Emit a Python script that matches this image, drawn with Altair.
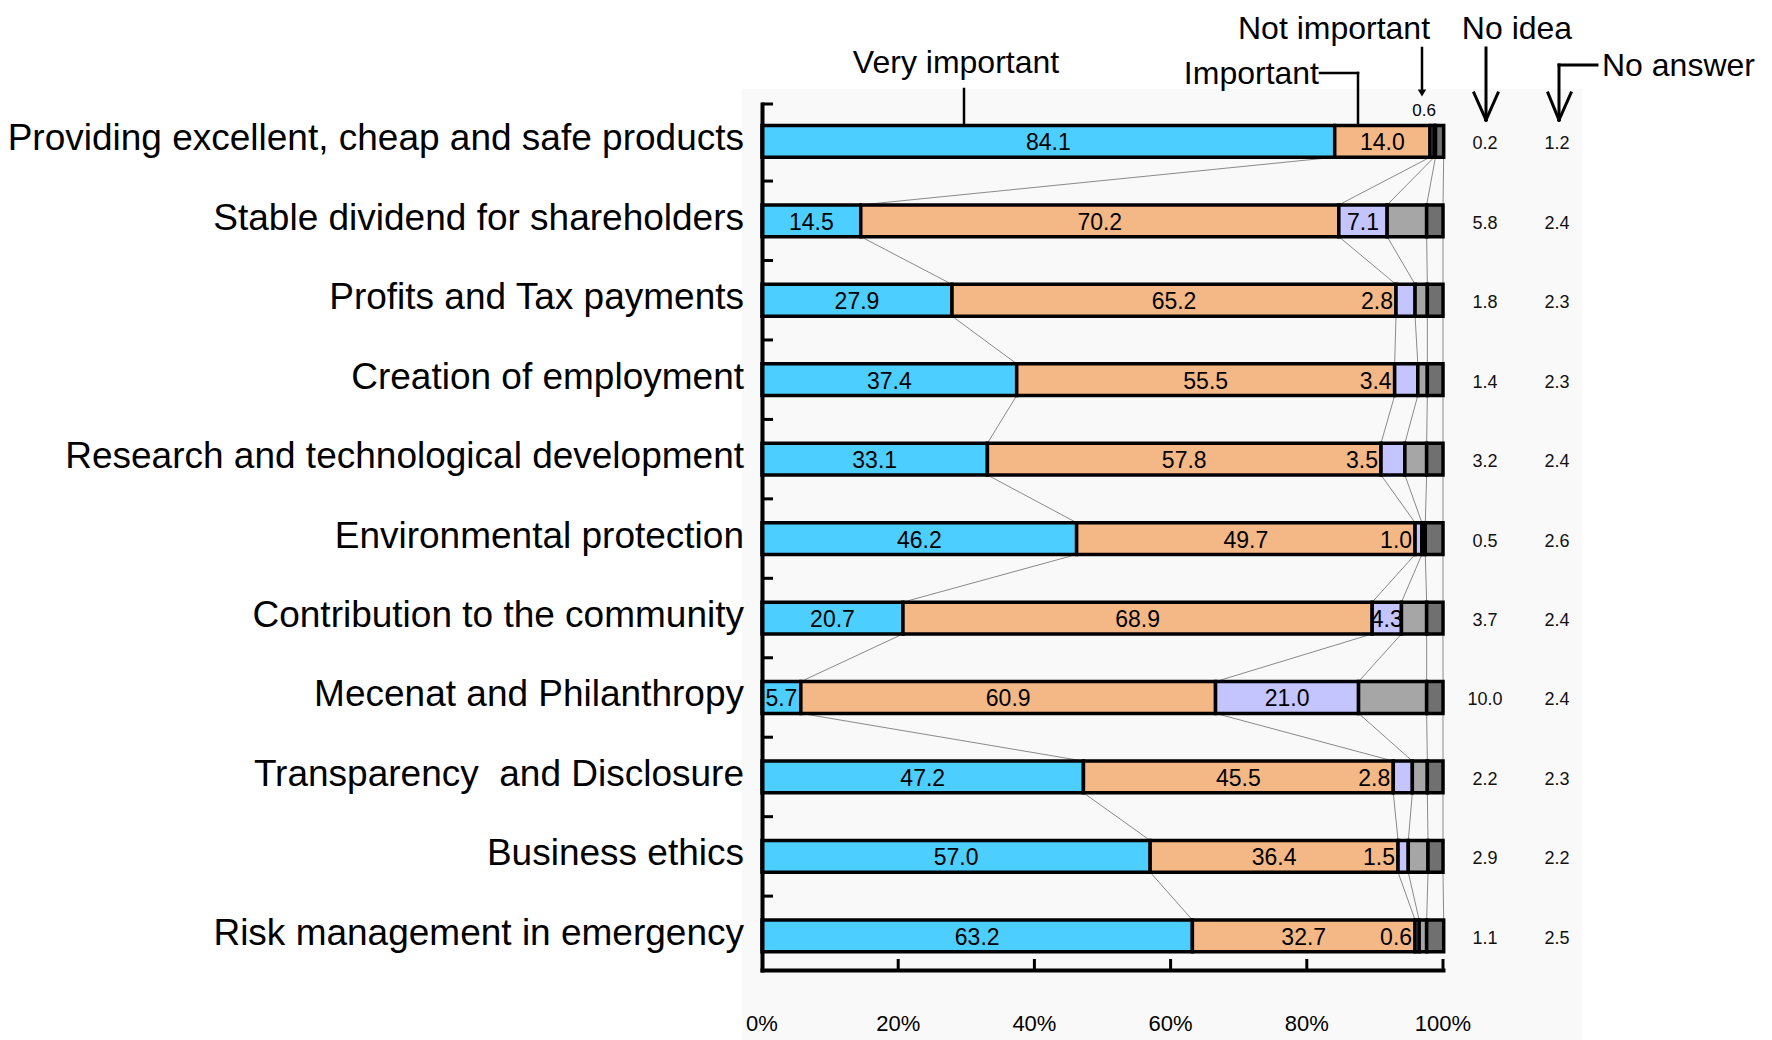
import altair as alt
import pandas as pd

# ---------------- data ----------------
categories = [
    "Providing excellent, cheap and safe products",
    "Stable dividend for shareholders",
    "Profits and Tax payments",
    "Creation of employment",
    "Research and technological development",
    "Environmental protection",
    "Contribution to the community",
    "Mecenat and Philanthropy",
    "Transparency\u00a0 and Disclosure",
    "Business ethics",
    "Risk management in emergency",
]
very_important = [84.1, 14.5, 27.9, 37.4, 33.1, 46.2, 20.7, 5.7, 47.2, 57.0, 63.2]
important = [14.0, 70.2, 65.2, 55.5, 57.8, 49.7, 68.9, 60.9, 45.5, 36.4, 32.7]
not_important = [0.6, 7.1, 2.8, 3.4, 3.5, 1.0, 4.3, 21.0, 2.8, 1.5, 0.6]
no_idea = [0.2, 5.8, 1.8, 1.4, 3.2, 0.5, 3.7, 10.0, 2.2, 2.9, 1.1]
no_answer = [1.2, 2.4, 2.3, 2.3, 2.4, 2.6, 2.4, 2.4, 2.3, 2.2, 2.5]

series_names = ["Very important", "Important", "Not important", "No idea", "No answer"]
series_colors = ["#4CCFFF", "#F4B887", "#C4C4FF", "#A6A6A6", "#707070"]

# how the "Not important" value label is placed on each row
not_important_label_style = ["above", "center", "left", "left", "left", "left",
                             "center", "center", "left", "left", "left"]

x_tick_values = [0, 20, 40, 60, 80, 100]
x_tick_labels = ["0%", "20%", "40%", "60%", "80%", "100%"]

# ---------------- geometry / style ----------------
W, H = 681, 866
HALF = 0.2                      # half bar thickness in row units
Y_DOMAIN = [-0.47, 10.43]
CAT_FONT = "Liberation Sans, Arial, sans-serif"
NUM_FONT = "Liberation Sans, Arial, sans-serif"

series_values = [very_important, important, not_important, no_idea, no_answer]
n = len(categories)

seg_rows = []
cums = []
for i in range(n):
    c = 0.0
    row_cum = []
    for k, name in enumerate(series_names):
        v = series_values[k][i]
        seg_rows.append({"row": i, "series": name, "start": c, "end": c + v,
                         "y0": i - HALF, "y1": i + HALF})
        c += v
        row_cum.append(c)
    cums.append(row_cum)
seg_df = pd.DataFrame(seg_rows)

conn_rows = []
for i in range(n - 1):
    for k in range(len(series_names)):
        conn_rows.append({"xa": cums[i][k], "ya": i + HALF,
                          "xb": cums[i + 1][k], "yb": i + 1 - HALF})
conn_df = pd.DataFrame(conn_rows)

lab_center = []
lab_left = []
lab_above = []
for i in range(n):
    v0, v1, v2 = very_important[i], important[i], not_important[i]
    lab_center.append({"row": i, "x": v0 / 2, "t": f"{v0:.1f}"})
    lab_center.append({"row": i, "x": v0 + v1 / 2, "t": f"{v1:.1f}"})
    st = not_important_label_style[i]
    if st == "center":
        lab_center.append({"row": i, "x": v0 + v1 + v2 / 2, "t": f"{v2:.1f}"})
    elif st == "left":
        lab_left.append({"row": i, "x": v0 + v1, "t": f"{v2:.1f}"})
    else:
        lab_above.append({"row": i - HALF, "x": v0 + v1 + v2 / 2, "t": f"{v2:.1f}"})

cat_df = pd.DataFrame({"row": list(range(n)), "cat": categories,
                       "idea": [f"{v:.1f}" for v in no_idea],
                       "noans": [f"{v:.1f}" for v in no_answer]})

ytick_df = pd.DataFrame({"yt": [Y_DOMAIN[0]] + [i + 0.5 for i in range(n - 1)]})
xtick_df = pd.DataFrame({"xt": x_tick_values[1:]})
xlab_df = pd.DataFrame({"xt": x_tick_values, "lab": x_tick_labels})

xs = alt.Scale(domain=[0, 100], nice=False, zero=False)
ys = alt.Scale(domain=Y_DOMAIN, reverse=True, nice=False, zero=False)

axis_x = alt.Axis(domain=True, domainColor="black", domainWidth=4, ticks=False,
                  labels=False, grid=False, title=None, domainCap="square", zindex=2)
axis_y = alt.Axis(domain=True, domainColor="black", domainWidth=4, ticks=False,
                  labels=False, grid=False, title=None, domainCap="square", zindex=2)

one = alt.Data(values=[{}])


def seg(x1, y1, x2, y2, w=2.5):
    return alt.Chart(one).mark_rule(color="black", strokeWidth=w, strokeCap="square").encode(
        x=alt.value(x1), x2=alt.value(x2), y=alt.value(y1), y2=alt.value(y2))


def label(txt, x, y, size=32, align="center"):
    return alt.Chart(one).mark_text(text=txt, font=CAT_FONT, fontSize=size, align=align,
                                    baseline="alphabetic", color="black").encode(
        x=alt.value(x), y=alt.value(y))


background = alt.Chart(one).mark_rect(color="#F9F9F9").encode(
    x=alt.value(-20), x2=alt.value(820), y=alt.value(-15), y2=alt.value(940))

connectors = alt.Chart(conn_df).mark_rule(color="#8A8A8A", strokeWidth=1).encode(
    x=alt.X("xa:Q", scale=xs, axis=axis_x), x2="xb:Q",
    y=alt.Y("ya:Q", scale=ys, axis=axis_y), y2="yb:Q")

bars = alt.Chart(seg_df).mark_rect(stroke="black", strokeWidth=3.5).encode(
    x=alt.X("start:Q", scale=xs, axis=axis_x), x2="end:Q",
    y=alt.Y("y0:Q", scale=ys, axis=axis_y), y2="y1:Q",
    color=alt.Color("series:N", scale=alt.Scale(domain=series_names, range=series_colors),
                    legend=None))

yticks = alt.Chart(ytick_df).mark_rule(color="black", strokeWidth=3).encode(
    x=alt.value(0), x2=alt.value(11), y=alt.Y("yt:Q", scale=ys, axis=axis_y))

xticks = alt.Chart(xtick_df).mark_rule(color="black", strokeWidth=3).encode(
    x=alt.X("xt:Q", scale=xs, axis=axis_x), y=alt.value(H), y2=alt.value(H - 11))

xlabels = alt.Chart(xlab_df).mark_text(font=NUM_FONT, fontSize=22, baseline="alphabetic",
                                       align="center", color="black").encode(
    x=alt.X("xt:Q", scale=xs, axis=axis_x), y=alt.value(927), text="lab:N")

val_center = alt.Chart(pd.DataFrame(lab_center)).mark_text(
    font=NUM_FONT, fontSize=23, baseline="middle", align="center", dy=2, color="black").encode(
    x=alt.X("x:Q", scale=xs, axis=axis_x), y=alt.Y("row:Q", scale=ys, axis=axis_y), text="t:N")

val_left = alt.Chart(pd.DataFrame(lab_left)).mark_text(
    font=NUM_FONT, fontSize=23, baseline="middle", align="right", dx=-3, dy=2,
    color="black").encode(
    x=alt.X("x:Q", scale=xs, axis=axis_x), y=alt.Y("row:Q", scale=ys, axis=axis_y), text="t:N")

val_above = alt.Chart(pd.DataFrame(lab_above)).mark_text(
    font=NUM_FONT, fontSize=17, baseline="bottom", align="center", dx=-8, dy=-5,
    color="black").encode(
    x=alt.X("x:Q", scale=xs, axis=axis_x), y=alt.Y("row:Q", scale=ys, axis=axis_y), text="t:N")

cat_labels = alt.Chart(cat_df).mark_text(
    font=CAT_FONT, fontSize=37, baseline="middle", align="right", dy=-2, color="black").encode(
    x=alt.value(-18), y=alt.Y("row:Q", scale=ys, axis=axis_y), text="cat:N")

idea_col = alt.Chart(cat_df).mark_text(
    font=CAT_FONT, fontSize=18, baseline="middle", align="center", dy=3, color="#111111").encode(
    x=alt.value(723), y=alt.Y("row:Q", scale=ys, axis=axis_y), text="idea:N")

noans_col = alt.Chart(cat_df).mark_text(
    font=CAT_FONT, fontSize=18, baseline="middle", align="center", dy=3, color="#111111").encode(
    x=alt.value(795), y=alt.Y("row:Q", scale=ys, axis=axis_y), text="noans:N")

# header annotations
ann = [
    label("Very important", 194, -31),
    seg(202, -15, 202, 19),
    label("Important", 557, -20, align="right"),
    seg(558, -31, 596, -31),
    seg(596, -31, 596, 19),
    label("Not important", 572, -65),
    seg(660, -56, 660, -12),
    alt.Chart(one).mark_point(shape="triangle-down", filled=True, color="black", size=70,
                              opacity=1).encode(x=alt.value(660), y=alt.value(-11)),
    label("No idea", 755, -65),
    seg(724, -56, 724, 16, 3),
    seg(712, -11, 724, 16, 3),
    seg(736, -11, 724, 16, 3),
    label("No answer", 840, -28, align="left"),
    seg(797, -39, 835, -39, 3),
    seg(797, -39, 797, 16, 3),
    seg(786, -11, 797, 16, 3),
    seg(809, -11, 797, 16, 3),
]

chart = alt.layer(
    background, connectors, bars, yticks, xticks, xlabels,
    val_center, val_left, val_above, cat_labels, idea_col, noans_col, *ann
).properties(
    width=W, height=H,
    autosize=alt.AutoSizeParams(type="none"),
    padding={"left": 754, "top": 96, "right": 321, "bottom": 70},
).configure_view(stroke=None)

chart.save("out.html", embed_options={"renderer": "svg", "actions": False})
